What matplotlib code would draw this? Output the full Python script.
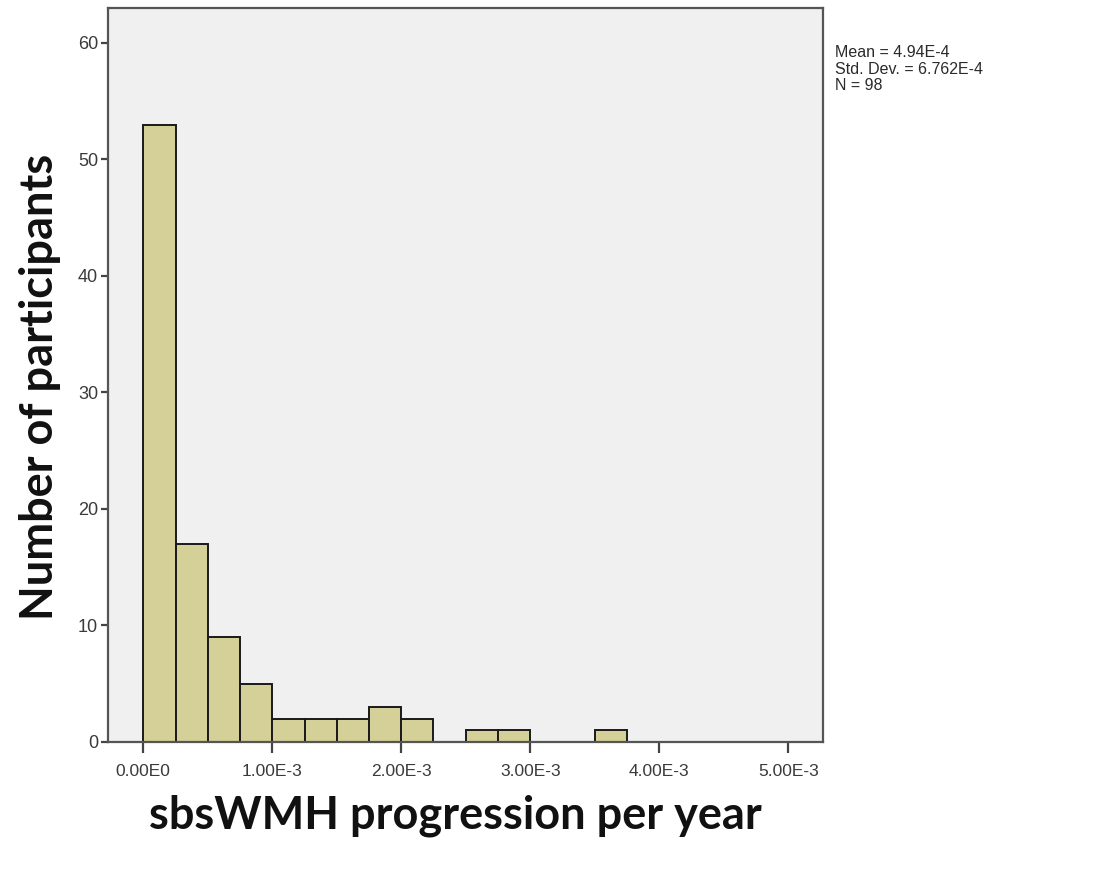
import numpy as np
import matplotlib
matplotlib.use("Agg")
import matplotlib.pyplot as plt

# histogram of yearly sbsWMH progression
bin_width = 0.25e-3
counts = [53, 17, 9, 5, 2, 2, 2, 3, 2, 0, 1, 1, 0, 0, 1]
x_ticks = [0.0, 1e-3, 2e-3, 3e-3, 4e-3, 5e-3]
x_tick_labels = ["0.00E0", "1.00E-3", "2.00E-3", "3.00E-3", "4.00E-3", "5.00E-3"]
y_ticks = [0, 10, 20, 30, 40, 50, 60]
stats_lines = ["Mean = 4.94E-4", "Std. Dev. = 6.762E-4", "N = 98"]

bin_left = np.arange(len(counts)) * bin_width

fig = plt.figure(figsize=(10.95, 8.72), dpi=100)
ax = fig.add_axes([0.0986, 0.1491, 0.653, 0.8417])
ax.set_facecolor("#f0f0f0")

ax.bar(bin_left, counts, width=bin_width, align="edge",
       color="#d5d098", edgecolor="#1a1a1a", linewidth=1.4, zorder=2)

ax.set_xlim(-0.274e-3, 5.27e-3)
ax.set_ylim(0, 63.0)

ax.set_xticks(x_ticks)
ax.set_xticklabels(x_tick_labels)
ax.set_yticks(y_ticks)

for side in ["left", "right", "top", "bottom"]:
    ax.spines[side].set_color("#555555")
    ax.spines[side].set_linewidth(1.6)

ax.tick_params(axis="x", direction="out", length=8, width=1.6, color="#444444",
               labelsize=12.5, labelcolor="#3a3a3a", pad=8)
ax.tick_params(axis="y", direction="out", length=5, width=1.6, color="#444444",
               labelsize=13, labelcolor="#3a3a3a", pad=2)
for lbl in ax.get_xticklabels() + ax.get_yticklabels():
    lbl.set_family("Liberation Sans")

fig.text(0.0365, 0.556, "Number of participants", rotation=90, ha="center", va="center",
         fontsize=32.5, fontweight="bold", family="Lato", color="#111111")
fig.text(0.416, 0.065, "sbsWMH progression per year", ha="center", va="center",
         fontsize=32.5, fontweight="bold", family="Lato", color="#111111")

fig.text(0.763, 0.948, "\n".join(stats_lines), ha="left", va="top",
         fontsize=11.5, family="Liberation Sans", color="#2a2a2a", linespacing=1.12)

fig.savefig("out.png", dpi=100, facecolor="white")
